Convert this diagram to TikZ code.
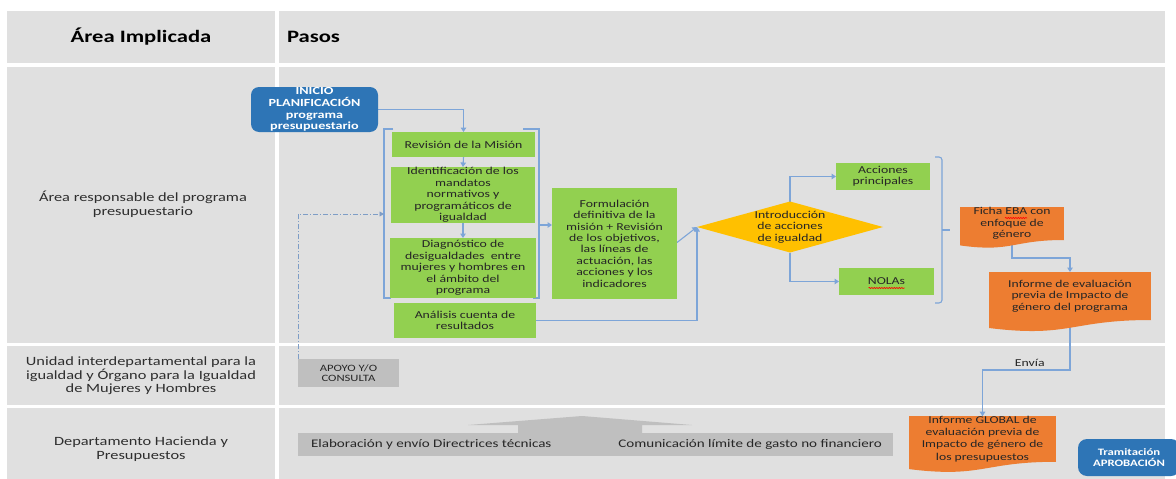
\documentclass[tikz,border=0pt]{standalone}
\usepackage{fontspec}
\setmainfont{Carlito}[FakeStretch=1.3]
\usetikzlibrary{arrows.meta,shapes.geometric,decorations.pathmorphing,calc}
\pgfdeclarelayer{cells}
\pgfdeclarelayer{links}
\pgfsetlayers{cells,links,main}
\definecolor{cellgray}{HTML}{E0E0E0}
\definecolor{boxgreen}{HTML}{92D050}
\definecolor{boxblue}{HTML}{2E75B6}
\definecolor{boxorange}{HTML}{ED7D31}
\definecolor{boxyellow}{HTML}{FFC000}
\definecolor{boxgray}{HTML}{BFBFBF}
\definecolor{linkblue}{HTML}{7DA5D8}
\definecolor{txtdark}{HTML}{262626}
\definecolor{txtlabel}{HTML}{2E2E2E}
\newcommand{\fsz}[2]{\fontsize{#1pt}{#2pt}\selectfont}
\begin{document}
\begin{tikzpicture}[x=1pt,y=-1pt,
 every node/.style={inner sep=0pt, outer sep=0pt},
 tabcell/.style={fill=cellgray},
 lbl/.style={text=txtlabel, align=center, font=\fsz{12.6}{14}},
 hdr/.style={text=black, font=\bfseries\fsz{17.4}{20}},
 greenbox/.style={fill=boxgreen, text=txtdark, align=center, font=\fsz{10.6}{11.4}},
 bluebox/.style={fill=boxblue, rounded corners=8pt, text=white, align=center, font=\bfseries\fsz{10.9}{11.7}},
 docbox/.style={fill=boxorange, text=txtdark, align=center, font=\fsz{10.5}{11.4}},
 graybox/.style={fill=boxgray, text=txtdark},
 linkarrow/.style={draw=linkblue, line width=1.1pt, -{Triangle[width=5.5pt,length=4.5pt]}},
 bracketline/.style={draw=linkblue, line width=1.1pt},
 dashlink/.style={draw=linkblue!80!gray, line width=0.9pt, dash pattern=on 5pt off 2pt on 1pt off 2pt, -{Triangle[width=5pt,length=4.5pt]}},
 spell/.style={draw=red, line width=0.6pt, decorate, decoration={snake, amplitude=0.6pt, segment length=2.5pt}}
]
\useasboundingbox (0,0) rectangle (1176,479);
\begin{pgfonlayer}{cells}
 \fill[white] (0,0) rectangle (1176,479);
 \fill[tabcell] (7,11) rectangle (275,63);
 \fill[tabcell] (279,11) rectangle (1165,63);
 \fill[tabcell] (7,67) rectangle (275,343);
 \fill[tabcell] (279,67) rectangle (1165,343);
 \fill[tabcell] (7,346) rectangle (275,405);
 \fill[tabcell] (279,346) rectangle (1165,405);
 \fill[tabcell] (7,408) rectangle (275,479);
 \fill[tabcell] (279,408) rectangle (1165,479);
\end{pgfonlayer}

% table labels
\node[hdr] (hA) at (141,37) {Área Implicada};
\node[hdr, anchor=west] (hP) at (287,37) {Pasos};
\node[lbl] (l1) at (143,204) {Área responsable del programa\\presupuestario};
\node[lbl, font=\fsz{12.6}{13.5}] (l2) at (141,376) {Unidad interdepartamental para la\\igualdad y Órgano para la Igualdad\\de Mujeres y Hombres};
\node[lbl] (l3) at (141,449) {Departamento Hacienda y\\Presupuestos};

% steps
\node[bluebox, minimum width=127pt, minimum height=45pt] (inicio) at (314.5,109.5) {INICIO\\PLANIFICACIÓN\\programa\\presupuestario};
\node[greenbox, minimum width=143pt, minimum height=25pt] (mision) at (463.5,144.5) {Revisión de la Misión};
\node[greenbox, minimum width=144pt, minimum height=56pt] (ident) at (463,195) {Identificación de los\\mandatos\\normativos y\\programáticos de\\igualdad};
\node[greenbox, minimum width=146pt, minimum height=60pt] (diag) at (463,268) {Diagnóstico de\\desigualdades~ entre\\mujeres y hombres en\\el ámbito del\\programa};
\node[greenbox, minimum width=142pt, minimum height=35pt] (analisis) at (465,320.5) {Análisis cuenta de\\resultados};
\node[greenbox, minimum width=125pt, minimum height=111pt] (formul) at (614.5,243.5) {Formulación\\definitiva de la\\misión + Revisión\\de los objetivos,\\las líneas de\\actuación, las\\acciones y los\\indicadores};
\node[diamond, fill=boxyellow, minimum width=186pt, minimum height=51pt, aspect=3.65] (dia) at (790,227) {};
\node[align=center, text=txtdark, font=\fsz{10.6}{11.5}] (diatext) at (dia.center) {Introducción\\de acciones\\de igualdad};
\node[greenbox, minimum width=94pt, minimum height=27pt] (acc) at (883,176.5) {Acciones\\principales};
\node[greenbox, minimum width=95pt, minimum height=27pt] (nolas) at (886.5,281.5) {NOLAs};

% documents
\node[docbox, minimum width=104pt, minimum height=33pt] (ficha) at (1012,223.5) {Ficha EBA con\\enfoque de\\género};
\fill[boxorange] (ficha.south east) .. controls (ficha.south) and ($(ficha.south)+(0,12.6)$) .. ($(ficha.south west)+(0,5.4)$) -- (ficha.south west) -- cycle;
\node[docbox, minimum width=162pt, minimum height=48pt] (informe) at (1070,296) {Informe de evaluación\\previa de Impacto de\\género del programa};
\fill[boxorange] (informe.south east) .. controls (informe.south) and ($(informe.south)+(0,18)$) .. ($(informe.south west)+(0,8)$) -- (informe.south west) -- cycle;
\node[docbox, minimum width=147pt, minimum height=44pt, font=\fsz{10.5}{12.2}] (global) at (982.5,439) {Informe GLOBAL de\\evaluación previa de\\Impacto de género de\\los presupuestos};
\fill[boxorange] (global.south east) .. controls (global.south) and ($(global.south)+(0,16.5)$) .. ($(global.south west)+(0,7.3)$) -- (global.south west) -- cycle;

\node[bluebox, rounded corners=9pt, minimum width=102pt, minimum height=37pt, font=\bfseries\fsz{9.8}{11.2}] (tram) at (1129,457.5) {Tramitación\\APROBACIÓN};

% gray boxes
\node[graybox, minimum width=101pt, minimum height=28pt, align=center, font=\fsz{9.7}{10.5}] (apoyo) at (348.5,373) {APOYO Y/O\\CONSULTA};
\fill[boxgray] (518,434) -- (518,425) -- (468,425) -- (582,416) -- (692,425) -- (642,425) -- (642,434) -- cycle;
\node[fill=boxgray, minimum width=595pt, minimum height=23pt] (bar) at (595.5,444.5) {};
\node[anchor=west, text=txtdark, font=\fsz{11.6}{13}] (elab) at ([xshift=13pt]bar.west) {Elaboración y envío Directrices técnicas};
\node[anchor=east, text=txtdark, font=\fsz{11.6}{13}] (comun) at ([xshift=-11pt]bar.east) {Comunicación límite de gasto no financiero};

% spelling marks
\draw[spell] ($(nolas.center)+(-18,6.5)$) -- ++(36,0);
\draw[spell] (1005,218) -- (1027,218);

\coordinate (brL) at (384,214);
\coordinate (brR) at (539,225);

\begin{pgfonlayer}{links}
 \draw[linkarrow] (inicio.east) -| (mision.north);
 \draw[linkarrow] (mision.south) -- (ident.north);
 \draw[linkarrow] (ident.south) -- (diag.north);
 \draw[bracketline] (393,129) -- (384,129) -- (384,298) -- (391,298);
 \draw[bracketline] (523,129) -- (539,129) -- (539,298) -- (533,298);
 \draw[linkarrow] (brR) -- (formul.west |- brR);
 \draw[linkarrow] ([yshift=1pt]formul.east) -- (dia.west);
 \draw[linkarrow] (analisis.east) -| (dia.west);
 \draw[linkarrow] (dia.north) |- (acc.west);
 \draw[linkarrow] (dia.south) |- (nolas.west);
 \draw[bracketline, rounded corners=3pt] (935,157) -- (942,157) -- (942,303) -- (935,303);
 \draw[bracketline] (942,230) -- (950,230);
 \draw[linkarrow] (ficha.south) -- ++(0,18) -| (informe.north);
 \draw[linkarrow] (informe.south) -- ++(0,50) -| node[pos=0.23, above=3pt, text=txtdark, font=\fsz{10.6}{12}] (envia) {Envía} (global.north);
 \draw[dashlink] (apoyo.north west) |- (brL);
\end{pgfonlayer}
\end{tikzpicture}
\end{document}
